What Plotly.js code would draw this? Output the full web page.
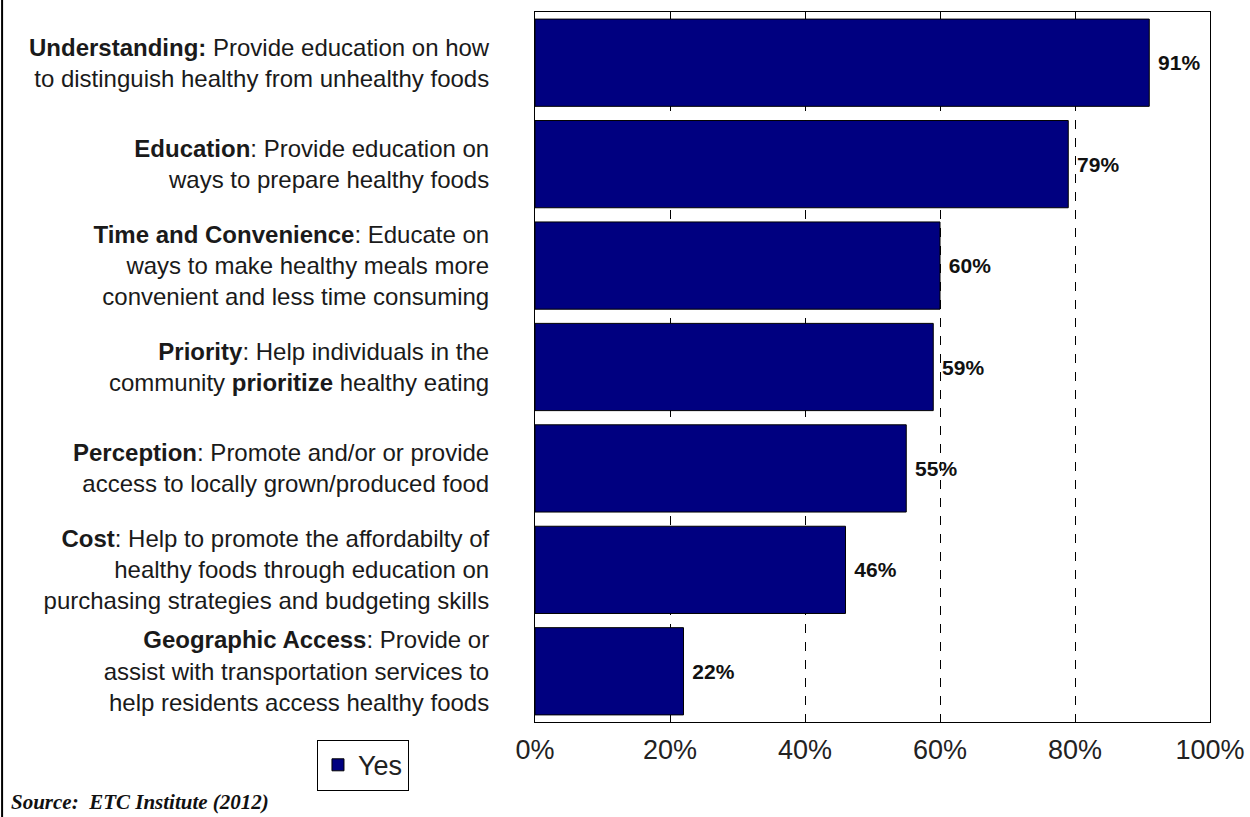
<!DOCTYPE html>
<html>
<head>
<meta charset="utf-8">
<script src="https://cdn.plot.ly/plotly-3.0.1.min.js"></script>
<style>html,body{margin:0;padding:0;background:#fff;}#chart{width:1250px;height:817px;}</style>
</head>
<body>
<div id="chart"></div>
<script>
const categories = [
  "<b>Understanding:</b> Provide education on how<br>to distinguish healthy from unhealthy foods",
  "<b>Education</b>: Provide education on<br>ways to prepare healthy foods",
  "<b>Time and Convenience</b>: Educate on<br>ways to make healthy meals more<br>convenient and less time consuming",
  "<b>Priority</b>: Help individuals in the<br>community <b>prioritize</b> healthy eating",
  "<b>Perception</b>: Promote and/or or provide<br>access to locally grown/produced food",
  "<b>Cost</b>: Help to promote the affordabilty of<br>healthy foods through education on<br>purchasing strategies and budgeting skills",
  "<b>Geographic Access</b>: Provide or<br>assist with transportation services to<br>help residents access healthy foods"
];
const yesValues = [91, 79, 60, 59, 55, 46, 22];
const tickValues = [0, 20, 40, 60, 80, 100];
const tickLabels = ["0%", "20%", "40%", "60%", "80%", "100%"];
const seriesName = "Yes";
const sourceText = "Source:  ETC Institute (2012)";

const trace = {
  type: "bar",
  orientation: "h",
  name: seriesName,
  x: yesValues,
  y: categories,
  width: 0.86,
  marker: {color: "#000080", line: {color: "#000000", width: 1}},
  text: yesValues.map(v => "\u00a0<b>" + v + "%</b>"),
  textposition: "outside",
  cliponaxis: false,
  constraintext: "none",
  textfont: {family: "Arial, 'Liberation Sans', sans-serif", size: 21, color: "#111"},
  hoverinfo: "none"
};

const layout = {
  width: 1250, height: 817,
  margin: {l: 535, r: 40, t: 12, b: 95},
  paper_bgcolor: "#fff", plot_bgcolor: "#fff",
  font: {family: "Arial, 'Liberation Sans', sans-serif", color: "#1a1a1a"},
  xaxis: {
    range: [0, 100],
    tickvals: tickValues, ticktext: tickLabels,
    showgrid: true, gridcolor: "#000", gridwidth: 1, griddash: "dash",
    zeroline: false,
    showline: true, linecolor: "#000", linewidth: 1, mirror: "ticks",
    ticks: "inside", ticklen: 4, tickcolor: "#000",
    tickfont: {size: 27, color: "#222"},
    ticklabelstandoff: 4,
    fixedrange: true
  },
  yaxis: {
    autorange: "reversed",
    showline: true, linecolor: "#000", linewidth: 1, mirror: true,
    ticks: "", showgrid: false,
    tickfont: {size: 24, color: "#1a1a1a"},
    ticklabelstandoff: 40,
    fixedrange: true
  },
  showlegend: true,
  legend: {
    x: -0.323, y: -0.025, xanchor: "left", yanchor: "top",
    bordercolor: "#000", borderwidth: 1,
    font: {size: 27, color: "#222"},
    itemwidth: 30
  },
  annotations: [{
    text: "<b><i>" + sourceText + "</i></b>",
    xref: "paper", yref: "paper",
    x: -0.78, y: -0.113, xanchor: "left", yanchor: "middle",
    showarrow: false,
    font: {family: "'Liberation Serif', 'Times New Roman', serif", size: 21, color: "#111"}
  }],
  shapes: [{
    type: "line", xref: "paper", yref: "paper",
    x0: -0.7895, x1: -0.7895, y0: -0.14, y1: 1.02,
    line: {color: "#000", width: 2}
  }]
};

Plotly.newPlot("chart", [trace], layout, {displayModeBar: false, staticPlot: true});
</script>
</body>
</html>
